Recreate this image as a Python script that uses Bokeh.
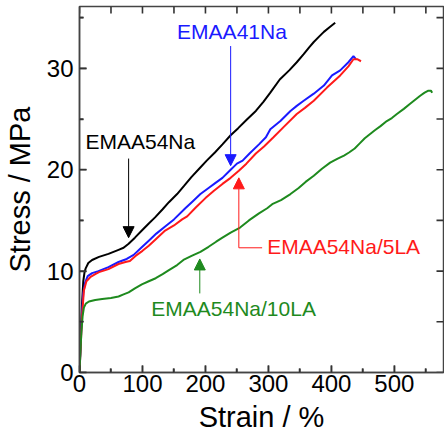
from bokeh.plotting import figure
from bokeh.models import Range1d, FixedTicker, Label, Arrow, NormalHead
from bokeh.embed import file_html
from bokeh.resources import INLINE

# ---- data (strain %, stress MPa) ----
black_x = [0, 2, 4, 6, 8, 10, 14, 20, 31, 46, 62, 70, 78, 88, 99, 110, 120, 132, 142, 155, 166, 178,
           190, 202, 215, 227, 240, 252, 265, 280, 292, 303, 318, 333, 345, 356, 365, 372, 380, 388,
           398, 406]
black_y = [0, 3.5, 6.8, 9.0, 9.9, 10.3, 10.8, 11.1, 11.4, 11.7, 12.1, 12.3, 12.7, 13.3, 14.0, 14.7, 15.3,
           16.1, 16.8, 17.6, 18.4, 19.3, 20.1, 20.9, 21.7, 22.5, 23.4, 24.1, 24.9, 25.8, 26.7, 27.6, 28.9,
           29.8, 30.6, 31.4, 32.1, 32.6, 33.1, 33.6, 34.1, 34.5]

blue_x = [0, 2, 4, 6, 9, 13, 20, 30, 46, 62, 75, 86, 98, 110, 122, 136, 150, 168, 180, 192, 205, 216,
          227, 240, 250, 259, 270, 285, 296, 303, 319, 335, 345, 356, 372, 388, 401, 414, 427, 435, 439]
blue_y = [0, 3.0, 6.0, 7.8, 8.9, 9.5, 9.8, 10.0, 10.4, 10.9, 11.2, 11.6, 12.3, 13.0, 13.7, 14.4, 15.1,
          16.2, 16.9, 17.6, 18.2, 18.7, 19.2, 20.0, 20.6, 20.9, 21.6, 22.5, 23.2, 24.0, 24.8, 25.8, 26.3,
          26.8, 27.5, 28.3, 29.3, 29.8, 30.6, 31.2, 30.9]

red_x = [0, 2, 4, 7, 11, 17, 25, 31, 46, 62, 73, 80, 89, 100, 110, 122, 136, 150, 163, 171, 185, 200,
         213, 227, 240, 253, 265, 280, 293, 308, 324, 345, 358, 372, 393, 414, 427, 435, 441, 447]
red_y = [0, 2.8, 5.5, 8.1, 9.0, 9.4, 9.7, 9.9, 10.2, 10.7, 10.9, 11.0, 11.5, 12.0, 12.5, 13.2, 14.0, 14.5,
         15.1, 15.4, 16.3, 17.2, 17.9, 18.6, 19.2, 19.9, 20.6, 21.6, 22.3, 23.2, 24.2, 25.5, 26.1, 26.8,
         28.1, 29.3, 30.2, 30.9, 30.9, 30.7]

green_x = [0, 1.5, 3, 5, 7, 10, 15, 25, 36, 50, 62, 70, 78, 88, 99, 110, 121, 132, 142, 155, 165, 178,
           192, 205, 217, 227, 240, 255, 269, 285, 298, 306, 320, 335, 348, 359, 372, 385, 398, 410, 420,
           428, 437, 445, 453, 461, 469, 478, 488, 496, 504, 515, 525, 533, 541, 548, 554, 558, 560]
green_y = [0, 2.0, 4.0, 5.6, 6.4, 6.8, 7.0, 7.15, 7.25, 7.35, 7.5, 7.7, 7.9, 8.3, 8.7, 9.0, 9.3, 9.7,
           10.1, 10.6, 11.1, 11.5, 11.9, 12.4, 12.9, 13.3, 13.8, 14.3, 15.0, 15.7, 16.2, 16.6, 17.0, 17.6,
           18.2, 18.8, 19.4, 20.1, 20.7, 21.1, 21.4, 21.7, 22.1, 22.6, 23.1, 23.5, 23.9, 24.3, 24.8, 25.1,
           25.5, 26.0, 26.5, 26.9, 27.3, 27.6, 27.8, 27.8, 27.6]

x_ticks = [0, 100, 200, 300, 400, 500]
x_minor = [50, 150, 250, 350, 450, 550]
y_ticks = [0, 10, 20, 30]
y_minor = [5, 15, 25, 35]
X_MAX = 578
Y_MAX = 36.1

FONT = "Liberation Sans"
AXC = "#444444"
TICKC = "#333333"
BLUE = "#1a1aff"
RED = "#ff1a1a"
GREEN = "#1e8a1e"

W, H = 444, 441
LEFT_BORDER, RIGHT_BORDER, TOP_BORDER, BOTTOM_BORDER = 79, 1, 6, 69
FRAME_W = W - LEFT_BORDER - RIGHT_BORDER
FRAME_H = H - TOP_BORDER - BOTTOM_BORDER

p = figure(width=W, height=H, output_backend="svg", toolbar_location=None,
           x_range=Range1d(0, X_MAX), y_range=Range1d(0, Y_MAX),
           min_border_left=LEFT_BORDER, min_border_right=RIGHT_BORDER,
           min_border_top=TOP_BORDER, min_border_bottom=BOTTOM_BORDER,
           x_axis_label="Strain / %", y_axis_label="Stress / MPa")
p.grid.visible = False
p.background_fill_color = "white"
p.border_fill_color = "white"
p.outline_line_color = AXC
p.outline_line_width = 1.5

p.line(black_x, black_y, line_color="black", line_width=2)
p.line(blue_x, blue_y, line_color=BLUE, line_width=2)
p.line(red_x, red_y, line_color=RED, line_width=2)
p.line(green_x, green_y, line_color=GREEN, line_width=2)

for ax, ticks, minor in ((p.xaxis[0], x_ticks, x_minor), (p.yaxis[0], y_ticks, y_minor)):
    ax.ticker = FixedTicker(ticks=ticks, minor_ticks=minor)
    ax.axis_line_color = AXC
    ax.axis_line_width = 1.5
    ax.major_tick_line_color = TICKC
    ax.minor_tick_line_color = TICKC
    ax.major_tick_line_width = 1.5
    ax.minor_tick_line_width = 1.5
    ax.major_tick_in = 7
    ax.major_tick_out = 0
    ax.minor_tick_in = 4
    ax.minor_tick_out = 0
    ax.major_label_text_font = FONT
    ax.major_label_text_font_size = "24px"
    ax.major_label_text_color = "black"
    ax.axis_label_text_font = FONT
    ax.axis_label_text_font_size = "29px"
    ax.axis_label_text_font_style = "normal"
    ax.axis_label_text_color = "black"

p.xaxis.major_label_standoff = 2
p.xaxis.axis_label_standoff = 6
p.yaxis.major_label_standoff = 6
p.yaxis.axis_label_standoff = 8

# inward tick marks on all four sides, drawn as thin filled bars
DX = X_MAX / FRAME_W   # data units per pixel
DY = Y_MAX / FRAME_H
MAJ, MIN, TW = 7, 4, 1.6   # lengths and bar thickness in pixels

q_l, q_r, q_b, q_t = [], [], [], []
def vbar(xc, y0, y1):
    q_l.append(xc - TW / 2 * DX); q_r.append(xc + TW / 2 * DX)
    q_b.append(min(y0, y1)); q_t.append(max(y0, y1))

def hbar(yc, x0, x1):
    q_b.append(yc - TW / 2 * DY); q_t.append(yc + TW / 2 * DY)
    q_l.append(min(x0, x1)); q_r.append(max(x0, x1))

for t in x_ticks:
    vbar(t, 0, MAJ * DY)
    vbar(t, Y_MAX, Y_MAX - MAJ * DY)
for t in x_minor:
    vbar(t, 0, MIN * DY)
    vbar(t, Y_MAX, Y_MAX - MAJ * DY)
for t in y_ticks:
    hbar(t, 0, MAJ * DX)
    hbar(t, X_MAX, X_MAX - MAJ * DX)
for t in y_minor:
    hbar(t, 0, MIN * DX)
    hbar(t, X_MAX, X_MAX - MAJ * DX)

p.quad(left=q_l, right=q_r, bottom=q_b, top=q_t, fill_color=TICKC, line_color=None)

# annotations
labels = [
    ("EMAA54Na", 9.5, 22.8, "black"),
    ("EMAA41Na", 155, 33.6, BLUE),
    ("EMAA54Na/5LA", 298, 12.4, RED),
    ("EMAA54Na/10LA", 114, 6.3, GREEN),
]
for txt, lx, ly, col in labels:
    p.add_layout(Label(x=lx, y=ly, text=txt, text_color=col, text_font=FONT,
                       text_font_size="21px", text_baseline="alphabetic"))

arrows = [
    (78, 21.1, 78, 13.3, "black"),
    (240, 32.2, 240, 20.4, BLUE),
    (253, 12.3, 253, 19.2, RED),
    (191, 7.8, 191, 11.2, GREEN),
]
for x0, y0, x1, y1, col in arrows:
    p.add_layout(Arrow(x_start=x0, y_start=y0, x_end=x1, y_end=y1, line_color=col, line_width=1,
                       end=NormalHead(size=11, fill_color=col, line_color=col, line_width=1)))
p.line([253, 290], [12.3, 12.3], line_color=RED, line_width=1)

open("out.html", "w").write(file_html(p, INLINE))
